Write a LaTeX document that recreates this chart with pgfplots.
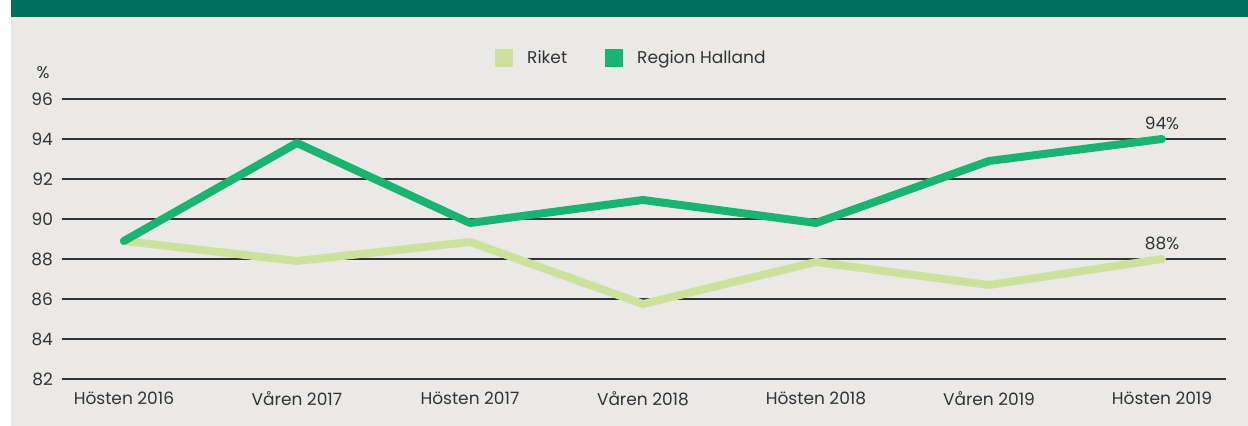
\documentclass[border=0pt]{standalone}
\usepackage{fontspec}
\setmainfont{Poppins}
\usepackage{pgfplots}
\pgfplotsset{compat=1.18}
\definecolor{band}{HTML}{006E5A}
\definecolor{bg}{HTML}{EAE9E7}
\definecolor{halland}{HTML}{1BB371}
\definecolor{riket}{HTML}{CCE29C}
\definecolor{txt}{HTML}{333333}
\begin{document}
\begin{tikzpicture}
\fill[white] (0,0) rectangle (624pt,213pt);
\fill[bg] (5.5pt,0) rectangle (624pt,213pt);
\fill[band] (5.5pt,204.5pt) rectangle (624pt,213pt);
\node[text=txt,font=\fontsize{8.5}{10}\selectfont] at (21.5pt,176.5pt) {\%};
\begin{axis}[
  at={(31pt,23.5pt)}, anchor=south west,
  scale only axis, width=582pt, height=140pt,
  xmin=-0.358, xmax=6.37, ymin=82, ymax=96,
  axis line style={draw=none},
  ytick={82,84,...,96},
  xtick={0,...,6},
  xticklabels={Hösten 2016,Våren 2017,Hösten 2017,Våren 2018,Hösten 2018,Våren 2019,Hösten 2019},
  major tick length=0pt,
  ymajorgrids, grid style={txt, line width=0.75pt},
  /pgf/number format/assume math mode=true,
  ticklabel style={text=txt, font=\fontsize{8.5}{10}\selectfont},
  yticklabel style={xshift=-1pt},
  xticklabel style={yshift=-3pt},
  clip=false,
  legend columns=2,
  legend style={draw=none, fill=none, at={(rel axis cs:0.49,1.146)}, anchor=center,
    font=\fontsize{8.5}{10}\selectfont, text=txt,
    /tikz/every even column/.append style={column sep=17pt}},
  legend image code/.code={\path[#1, draw=none, fill] (0pt,-4.5pt) rectangle (9pt,4.5pt); \path (12pt,0);},
]
\addplot[riket, line width=4pt, line join=round, line cap=round] coordinates {
(0,88.9) (1,87.9) (2,88.85) (3,85.75) (4,87.85) (5,86.7) (6,88.0)};
\addlegendentry{Riket}
\addplot[halland, line width=4pt, line join=round, line cap=round] coordinates {
(0,88.9) (1,93.8) (2,89.8) (3,90.95) (4,89.8) (5,92.9) (6,94.0)};
\addlegendentry{Region Halland}
\node[text=txt, anchor=south, font=\fontsize{8.5}{10}\selectfont] at (axis cs:6,94) [yshift=1pt] {94\%};
\node[text=txt, anchor=south, font=\fontsize{8.5}{10}\selectfont] at (axis cs:6,88) [yshift=1pt] {88\%};
\end{axis}
\end{tikzpicture}
\end{document}
